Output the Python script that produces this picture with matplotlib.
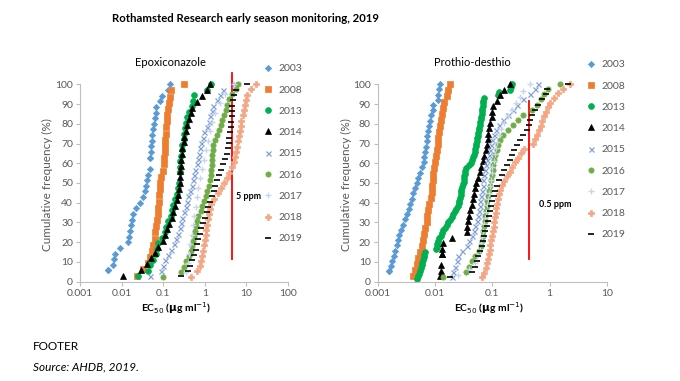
import numpy as np
import matplotlib
matplotlib.use("Agg")
import matplotlib.pyplot as plt

plt.rcParams['font.family'] = ['Lato', 'DejaVu Sans']

years = ["2003", "2008", "2013", "2014", "2015", "2016", "2017", "2018", "2019"]

# ---- Epoxiconazole EC50 values (ug/ml), one list per year ----
epo_2003 = [0.0047, 0.0047, 0.0062, 0.0066, 0.0069, 0.0091, 0.014, 0.015, 0.0155, 0.017, 0.018,
            0.019, 0.022, 0.028, 0.032, 0.037, 0.039, 0.040, 0.044, 0.047, 0.049, 0.049, 0.050,
            0.051, 0.053, 0.055, 0.057, 0.059, 0.064, 0.067, 0.068, 0.082, 0.094, 0.131, 0.148]
epo_2008 = [0.023, 0.033, 0.042, 0.049, 0.053, 0.058, 0.062, 0.064, 0.068, 0.071, 0.073, 0.075,
            0.078, 0.079, 0.082, 0.086, 0.09, 0.098, 0.102, 0.104, 0.108, 0.11, 0.112, 0.117,
            0.119, 0.123, 0.126, 0.131, 0.138, 0.143, 0.157, 0.31]
epo_2013 = [0.025, 0.044, 0.048, 0.058, 0.066, 0.071, 0.075, 0.092, 0.11, 0.12, 0.13, 0.15,
            0.165, 0.175, 0.19, 0.22, 0.23, 0.245, 0.25, 0.25, 0.255, 0.26, 0.27, 0.28, 0.29,
            0.31, 0.32, 0.33, 0.35, 0.38, 0.42, 0.48, 0.53, 0.55, 1.1, 1.44]
epo_2014 = [0.011, 0.03, 0.04, 0.051, 0.062, 0.075, 0.1, 0.11, 0.125, 0.14, 0.16, 0.175, 0.19,
            0.21, 0.23, 0.24, 0.25, 0.255, 0.26, 0.265, 0.27, 0.28, 0.29, 0.31, 0.32, 0.35,
            0.38, 0.42, 0.46, 0.5, 0.65, 0.84, 1.15, 1.34]
epo_2015 = [0.048, 0.09, 0.1, 0.11, 0.13, 0.15, 0.18, 0.2, 0.23, 0.25, 0.27, 0.29, 0.32, 0.35,
            0.37, 0.40, 0.44, 0.5, 0.53, 0.56, 0.59, 0.64, 0.68, 0.72, 0.77, 0.82, 0.89, 0.98,
            1.12, 1.26, 1.32, 1.45, 1.6, 1.98, 2.3, 2.67, 5.0]
epo_2016 = [0.1, 0.27, 0.31, 0.36, 0.41, 0.47, 0.50, 0.53, 0.55, 0.57, 0.60, 0.64, 0.69, 0.79,
            0.87, 0.96, 1.05, 1.15, 1.26, 1.34, 1.38, 1.42, 1.45, 1.48, 1.5, 1.55, 1.6, 1.8,
            2.0, 2.2, 2.4, 2.6, 2.9, 3.2, 3.5, 3.87, 4.5, 5.5, 6.2]
epo_2017 = [0.35, 0.4, 0.42, 0.45, 0.48, 0.52, 0.55, 0.6, 0.65, 0.7, 0.78, 0.85, 0.95, 1.05,
            1.2, 1.35, 1.5, 1.8, 2.3, 3.0, 5.0]
epo_2018 = [0.47, 0.66, 0.77, 0.83, 0.87, 0.92, 0.96, 1.0, 1.05, 1.09, 1.16, 1.2, 1.27, 1.34,
            1.44, 1.68, 2.02, 2.43, 2.82, 3.4, 3.8, 4.5, 4.9, 5.2, 5.6, 5.8, 6.3, 6.5, 7.0,
            7.3, 7.6, 8.1, 8.7, 9.5, 10.0, 10.5, 13.0, 17.2]
epo_2019 = [0.27, 0.4, 0.45, 0.5, 0.55, 0.6, 0.65, 0.7, 0.75, 0.8, 0.9, 1.0, 1.1, 1.2, 1.35,
            1.5, 1.68, 1.8, 2.0, 2.2, 2.4, 2.7, 3.1, 3.4, 3.6, 3.8, 3.9, 4.1, 4.2, 4.3, 4.4,
            4.5, 4.6, 4.8, 5.1, 5.5, 10.4]

# ---- Prothio-desthio EC50 values (ug/ml) ----
pro_2003 = [0.0016, 0.0016, 0.0017, 0.0018, 0.0019, 0.002, 0.0022, 0.0023, 0.0024, 0.0026,
            0.0028, 0.003, 0.0033, 0.0035, 0.0037, 0.0039, 0.0041, 0.0045, 0.0048, 0.0051,
            0.0055, 0.0059, 0.0063, 0.0064, 0.0067, 0.007, 0.0072, 0.0073, 0.0076, 0.0079,
            0.0082, 0.0085, 0.0091, 0.0094, 0.0111, 0.0114, 0.0119, 0.0122]
pro_2008 = [0.0041, 0.0045, 0.0048, 0.0051, 0.0055, 0.0059, 0.0061, 0.0064, 0.0067, 0.0072,
            0.0073, 0.0076, 0.008, 0.0085, 0.0087, 0.009, 0.0091, 0.0094, 0.0096, 0.01, 0.0104,
            0.0107, 0.0111, 0.0114, 0.0119, 0.0122, 0.0126, 0.013, 0.014, 0.0144, 0.016,
            0.0171, 0.0183]
pro_2013 = [0.0048, 0.005, 0.0052, 0.0054, 0.0057, 0.0059, 0.006, 0.0062, 0.0064, 0.0065,
            0.0067, 0.0105, 0.0107, 0.011, 0.0112, 0.0118, 0.0125, 0.013, 0.0138, 0.015, 0.016,
            0.017, 0.0185, 0.0195, 0.021, 0.0225, 0.0235, 0.025, 0.026, 0.0266, 0.027, 0.028,
            0.0285, 0.029, 0.03, 0.031, 0.0315, 0.032, 0.0325, 0.033, 0.034, 0.035, 0.040,
            0.042, 0.044, 0.046, 0.048, 0.049, 0.05, 0.051, 0.052, 0.054, 0.055, 0.056, 0.057,
            0.058, 0.059, 0.061, 0.062, 0.063, 0.064, 0.065, 0.066, 0.067, 0.068, 0.069, 0.07,
            0.072, 0.127, 0.13, 0.2, 0.21, 0.22]
pro_2014 = [0.0122, 0.0125, 0.0127, 0.0131, 0.0131, 0.0134, 0.0136, 0.0195, 0.0357, 0.0367,
            0.038, 0.04, 0.041, 0.044, 0.046, 0.048, 0.05, 0.052, 0.056, 0.06, 0.064, 0.068,
            0.072, 0.077, 0.08, 0.083, 0.085, 0.089, 0.093, 0.098, 0.10, 0.104, 0.122, 0.135,
            0.16, 0.2]
pro_2015 = [0.0195, 0.021, 0.0223, 0.024, 0.0255, 0.03, 0.0357, 0.04, 0.044, 0.047, 0.05,
            0.053, 0.056, 0.058, 0.06, 0.062, 0.064, 0.066, 0.068, 0.07, 0.072, 0.075, 0.078,
            0.082, 0.086, 0.09, 0.095, 0.1, 0.108, 0.118, 0.13, 0.155, 0.19, 0.23, 0.27, 0.35,
            0.45, 0.55, 0.62]
pro_2016 = [0.014, 0.035, 0.04, 0.045, 0.05, 0.058, 0.063, 0.066, 0.068, 0.07, 0.072, 0.074,
            0.076, 0.078, 0.08, 0.082, 0.085, 0.088, 0.091, 0.094, 0.098, 0.101, 0.104, 0.108,
            0.113, 0.12, 0.125, 0.135, 0.155, 0.19, 0.23, 0.28, 0.35, 0.5, 0.6, 0.7, 0.8, 0.95,
            1.5]
pro_2017 = [0.025, 0.04, 0.05, 0.055, 0.06, 0.063, 0.066, 0.069, 0.072, 0.075, 0.078, 0.08,
            0.083, 0.086, 0.09, 0.094, 0.098, 0.1, 0.105, 0.11, 0.115, 0.12, 0.13, 0.14, 0.16,
            0.19, 0.22, 0.26, 0.3, 0.35, 0.45]
pro_2018 = [0.065, 0.072, 0.078, 0.082, 0.085, 0.088, 0.091, 0.093, 0.096, 0.099, 0.102,
            0.105, 0.108, 0.11, 0.114, 0.118, 0.122, 0.127, 0.132, 0.136, 0.146, 0.16, 0.18,
            0.2, 0.22, 0.25, 0.28, 0.32, 0.36, 0.52, 0.56, 0.6, 0.65, 0.7, 0.75, 0.8, 0.85,
            0.93, 1.0, 1.17, 1.38, 1.74, 2.27]
pro_2019 = [0.018, 0.045, 0.05, 0.053, 0.057, 0.061, 0.065, 0.068, 0.072, 0.076, 0.08, 0.084,
            0.088, 0.092, 0.096, 0.1, 0.105, 0.111, 0.12, 0.13, 0.146, 0.16, 0.18, 0.2, 0.22,
            0.24, 0.27, 0.3, 0.35, 0.4, 0.44, 0.46, 0.49, 0.55, 0.63, 0.75, 0.87, 0.91, 2.1]

epo_series = [epo_2003, epo_2008, epo_2013, epo_2014, epo_2015, epo_2016, epo_2017, epo_2018, epo_2019]
pro_series = [pro_2003, pro_2008, pro_2013, pro_2014, pro_2015, pro_2016, pro_2017, pro_2018, pro_2019]

thresholds = [4.5, 0.44]          # red reference lines (ug/ml)
threshold_labels = ["5 ppm", "0.5 ppm"]
panel_titles = ["Epoxiconazole", "Prothio-desthio"]

styles = [
    dict(marker='D', color='#5B9BD5', ms=3.2, mec='#5B9BD5'),
    dict(marker='s', color='#ED7D31', ms=4.8, mec='#ED7D31'),
    dict(marker='o', color='#00B050', ms=4.2, mec='#00B050'),
    dict(marker='^', color='#000000', ms=3.8, mec='#000000'),
    dict(marker='x', color='#7F9FD6', ms=3.6, mec='#7F9FD6', mew=0.9),
    dict(marker='o', color='#70AD47', ms=3.8, mec='#70AD47'),
    dict(marker='+', color='#C5D6EE', ms=4.0, mec='#C5D6EE', mew=1.0),
    dict(marker='P', color='#F4A582', ms=3.8, mec='#F4A582'),
    dict(marker='_', color='#000000', ms=4.8, mec='#000000', mew=1.2),
]

W, H = 680, 381
fig = plt.figure(figsize=(W / 100, H / 100), dpi=100)
fig.patch.set_facecolor('white')

def fx(px):
    return px / W

def fy(py):
    return 1 - py / H

axes_px = [(80, 288, 84.3, 281.7), (377.7, 606.9, 84.3, 281.7)]
xlims = [(0.001, 100), (0.001, 10)]
legend_pos = [(264, 64), (587, 60)]
thr_y = [(11.5, 105.5), (11.3, 91.5)]
thr_text = [(236, 43.4), (539, 39)]
title_x = [170, 472]
xlab_x = [176, 489]
ylab_x = [47, 346]

for k, series in enumerate([epo_series, pro_series]):
    x0, x1, ytop, ybot = axes_px[k]
    ax = fig.add_axes([fx(x0), fy(ybot), fx(x1 - x0), (ybot - ytop) / H])
    handles = []
    for vals, st, yr in zip(series, styles, years):
        v = np.sort(np.asarray(vals, dtype=float))
        pct = np.searchsorted(v, v, side='right') / len(v) * 100
        h, = ax.plot(v, pct, linestyle='none', marker=st['marker'], color=st['color'],
                     markersize=st['ms'], markeredgecolor=st['mec'],
                     markeredgewidth=st.get('mew', 0.5), clip_on=False, label=yr)
        handles.append(h)
    ax.plot([thresholds[k], thresholds[k]], list(thr_y[k]), color='#FF0000', lw=1.3,
            clip_on=False, zorder=1)
    ax.set_xscale('log')
    ax.set_xlim(*xlims[k])
    ax.set_ylim(0, 100)
    ticks = [10.0 ** e for e in range(-3, int(np.log10(xlims[k][1])) + 1)]
    ax.set_xticks(ticks)
    ax.set_xticklabels([("%g" % t) for t in ticks])
    ax.xaxis.set_minor_locator(matplotlib.ticker.NullLocator())
    ax.set_yticks(range(0, 101, 10))
    for s in ['top', 'right']:
        ax.spines[s].set_visible(False)
    for s in ['left', 'bottom']:
        ax.spines[s].set_color('#BFBFBF')
        ax.spines[s].set_linewidth(0.8)
    ax.tick_params(axis='both', colors='#BFBFBF', labelcolor='#595959', labelsize=7.5,
                   length=3, width=0.8, direction='out', pad=2)
    ax.patch.set_alpha(0)

    fig.text(fx(title_x[k]), fy(62), panel_titles[k], ha='center', va='center',
             fontsize=8, color='#000000')
    fig.text(fx(xlab_x[k]), fy(308), r'EC$_{50}$ ($\mathbf{\mu}$g ml$^{-1}$)', ha='center',
             va='center', fontsize=7.5, fontweight='bold', color='#000000')
    fig.text(fx(ylab_x[k]), fy(185), 'Cumulative frequency (%)', ha='center', va='center',
             rotation=90, fontsize=8.5, color='#595959')
    fig.text(fx(thr_text[k][0]), fy(281.7 - 1.974 * thr_text[k][1]), threshold_labels[k],
             ha='left', va='center', fontsize=6.5, fontweight='bold', color='#000000')

    lx, ly = legend_pos[k]
    fig.legend(handles=handles, loc='upper left', bbox_to_anchor=(fx(lx), fy(ly)),
               frameon=False, fontsize=7.5, labelspacing=1.15, handlelength=0.8,
               handletextpad=0.6, borderpad=0, borderaxespad=0, labelcolor='#595959')

fig.text(fx(246), fy(18), 'Rothamsted Research early season monitoring, 2019', ha='center',
         va='center', fontsize=8.2, fontweight='bold', color='#000000')
fig.text(fx(33), fy(347), 'FOOTER', ha='left', va='center', fontsize=8.5, color='#000000')
fig.text(fx(33), fy(367), 'Source: AHDB, 2019.', ha='left', va='center', fontsize=8.5,
         style='italic', color='#000000')

fig.savefig('out.png', dpi=100, facecolor='white')
